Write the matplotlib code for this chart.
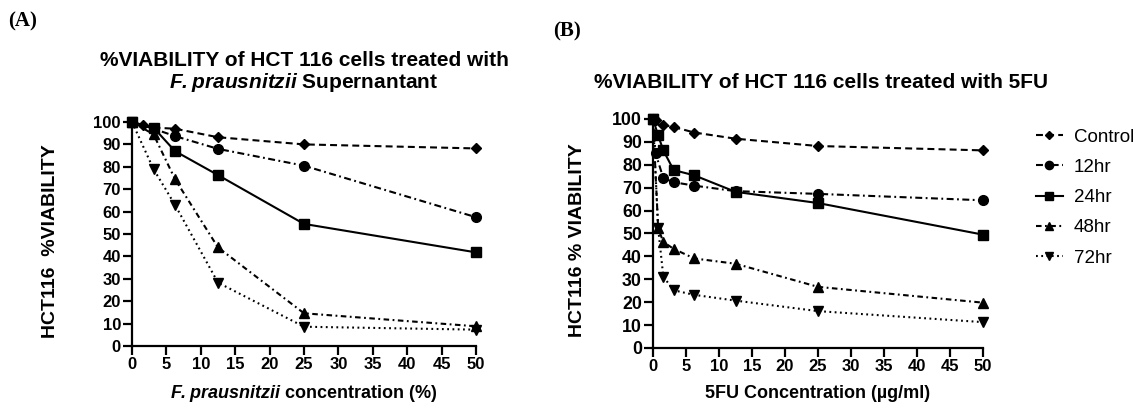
import matplotlib
matplotlib.use("Agg")
import matplotlib.pyplot as plt
from matplotlib.lines import Line2D

plt.rcParams['font.family'] = ['Liberation Sans', 'DejaVu Sans']
plt.rcParams['lines.scale_dashes'] = False
plt.rcParams['mathtext.fontset'] = 'custom'
plt.rcParams['mathtext.bfit'] = 'Liberation Sans:bold:italic'

# ---------------- data ----------------
series_names = ["Control", "12hr", "24hr", "48hr", "72hr"]

# Panel A: F. prausnitzii supernatant (%)
a_ctrl_x = [0, 1.5625, 3.125, 6.25, 12.5, 25, 50]
a_ctrl_y = [100, 98.5, 97.5, 97, 93.2, 90, 88.2]
a_12_x = [0, 3.125, 6.25, 12.5, 25, 50]
a_12_y = [100, 97, 93.7, 88, 80.5, 57.5]
a_24_x = [0, 3.125, 6.25, 12.5, 25, 50]
a_24_y = [100, 97.5, 87, 76.3, 54.5, 41.8]
a_48_x = [0, 3.125, 6.25, 12.5, 25, 50]
a_48_y = [100, 94.5, 74.5, 44, 14.6, 8.8]
a_72_x = [0, 3.125, 6.25, 12.5, 25, 50]
a_72_y = [100, 79, 63, 28.3, 8.6, 7.3]

# Panel B: 5FU (ug/ml)
b_ctrl_x = [0, 0.39, 1.5625, 3.125, 6.25, 12.5, 25, 50]
b_ctrl_y = [100, 99.5, 97.4, 96.5, 94.1, 91.4, 88.2, 86.3]
b_12_x = [0, 0.39, 1.5625, 3.125, 6.25, 12.5, 25, 50]
b_12_y = [100, 85, 74.2, 72.4, 70.9, 68.5, 67.3, 64.5]
b_24_x = [0, 0.78, 1.5625, 3.125, 6.25, 12.5, 25, 50]
b_24_y = [100, 92.8, 86.3, 77.7, 75.4, 68.2, 63.3, 49.5]
b_48_x = [0, 0.78, 1.5625, 3.125, 6.25, 12.5, 25, 50]
b_48_y = [100, 52.3, 46.3, 43.3, 39.1, 36.8, 26.7, 19.8]
b_72_x = [0, 0.78, 1.5625, 3.125, 6.25, 12.5, 25, 50]
b_72_y = [100, 52.3, 31.2, 25.2, 23.2, 20.7, 16.1, 11.3]

x_ticks = list(range(0, 51, 5))
y_ticks = list(range(0, 101, 10))

# ---------------- styles ----------------
styles = {
    "Control": dict(marker='D', ms=5.0, ls=(0, (5, 3))),
    "12hr": dict(marker='o', ms=7.0, ls=(0, (5, 2.5, 1.3, 2.5))),
    "24hr": dict(marker='s', ms=7.0, ls='-'),
    "48hr": dict(marker='^', ms=7.0, ls=(0, (4, 2.5, 1.3, 2.5))),
    "72hr": dict(marker='v', ms=7.0, ls=(0, (1.3, 2.5))),
}
LW = 1.5

fig = plt.figure(figsize=(11.37, 4.07), dpi=100)
W, H = 1137, 407

def ax_from_px(x0, x1, y100, y0):
    return fig.add_axes([x0 / W, 1 - y0 / H, (x1 - x0) / W, (y0 - y100) / H])

axA = ax_from_px(132, 476, 122, 346)
axB = ax_from_px(653, 983, 119, 348)

dataA = [(a_ctrl_x, a_ctrl_y), (a_12_x, a_12_y), (a_24_x, a_24_y), (a_48_x, a_48_y), (a_72_x, a_72_y)]
dataB = [(b_ctrl_x, b_ctrl_y), (b_12_x, b_12_y), (b_24_x, b_24_y), (b_48_x, b_48_y), (b_72_x, b_72_y)]

for ax, data, ysz in ((axA, dataA, 12), (axB, dataB, 12.8)):
    for name, (xs, ys) in zip(series_names, data):
        st = styles[name]
        ax.plot(xs, ys, color='black', lw=LW, linestyle=st['ls'], marker=st['marker'],
                ms=st['ms'], mfc='black', mec='black', clip_on=False, label=name)
    ax.set_xlim(0, 50)
    ax.set_ylim(0, 100)
    ax.set_xticks(x_ticks)
    ax.set_yticks(y_ticks)
    for s in ('top', 'right'):
        ax.spines[s].set_visible(False)
    for s in ('left', 'bottom'):
        ax.spines[s].set_linewidth(1.6)
    ax.tick_params(direction='out', length=6.5, width=1.6, pad=1.5, labelsize=12)
    ax.tick_params(axis='y', labelsize=ysz)
    for lab in ax.get_xticklabels() + ax.get_yticklabels():
        lab.set_fontweight('bold')

# axis labels
axA.set_xlabel(r"$\mathbfit{F. prausnitzii}$ concentration (%)", fontsize=13, fontweight='bold')
axB.set_xlabel("5FU Concentration (µg/ml)", fontsize=13, fontweight='bold')
axA.set_ylabel("HCT116  %VIABILITY", fontsize=14, fontweight='bold')
axB.set_ylabel("HCT116 % VIABILITY", fontsize=14, fontweight='bold')
for ax in (axA, axB):
    ax.xaxis.label.set_va('center')
    ax.yaxis.label.set_va('center')
axA.xaxis.set_label_coords(0.5, (346 - 393) / 224)
axB.xaxis.set_label_coords(0.5, (348 - 393) / 229)
axA.yaxis.set_label_coords((51 - 132) / 344, 0.47)
axB.yaxis.set_label_coords((577 - 653) / 330, 0.47)

# titles
fig.text(304 / W, 1 - 60 / H, "%VIABILITY of HCT 116 cells treated with",
         ha='center', va='center', fontsize=15, fontweight='bold')
fig.text(304 / W, 1 - 83 / H, r"$\mathbfit{F. prausnitzii}$ Supernantant",
         ha='center', va='center', fontsize=15, fontweight='bold')
fig.text(821 / W, 1 - 82 / H, "%VIABILITY of HCT 116 cells treated with 5FU",
         ha='center', va='center', fontsize=15, fontweight='bold')

# panel labels
fig.text(8 / W, 1 - 21 / H, "(A)", ha='left', va='center', fontsize=15,
         fontweight='bold', family='Liberation Serif')
fig.text(553 / W, 1 - 31 / H, "(B)", ha='left', va='center', fontsize=15,
         fontweight='bold', family='Liberation Serif')

# legend
handles = []
for name in series_names:
    st = styles[name]
    handles.append(Line2D([], [], color='black', lw=LW, linestyle=st['ls'], marker=st['marker'],
                          ms=st['ms'] * 0.85, mfc='black', mec='black'))
leg = axB.legend(handles, series_names, loc='upper left', bbox_to_anchor=(1028 / W, 1 - 121 / H),
                 bbox_transform=fig.transFigure, frameon=False, fontsize=13.5,
                 handlelength=1.45, handletextpad=0.6, labelspacing=0.7, borderaxespad=0)

fig.savefig("out.png", dpi=100)
